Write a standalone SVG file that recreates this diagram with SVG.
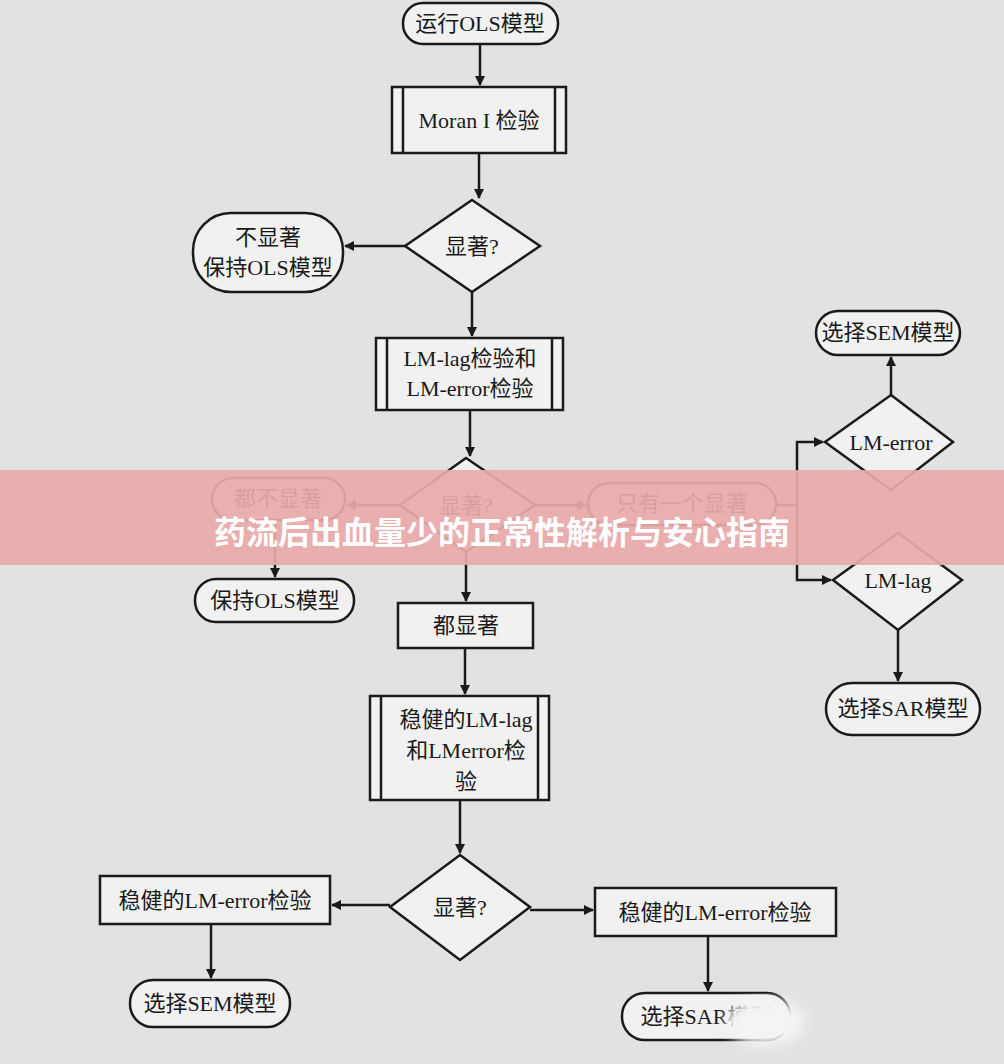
<svg xmlns="http://www.w3.org/2000/svg" width="1004" height="1064" viewBox="0 0 1004 1064">
<defs>
<marker id="ah" markerWidth="10" markerHeight="10" refX="9" refY="5" orient="auto" markerUnits="userSpaceOnUse"><path d="M0,0 L10,5 L0,10 z" fill="#1a1a1a"/></marker>
<filter id="bl"><feGaussianBlur stdDeviation="6"/></filter>
</defs>
<style>
.b{fill:#f1f1f1;stroke:#1a1a1a;stroke-width:2.5}
.l{fill:none;stroke:#1a1a1a;stroke-width:2.5}
.c{stroke:#1a1a1a;stroke-width:2.5;fill:none}
text{font-family:"Liberation Serif","Noto Sans CJK SC",serif;font-size:22px;fill:#1a1a1a;text-anchor:middle}
</style>
<rect width="1004" height="1064" fill="#e2e2e4"/>
<g id="connectors">
<path class="c" d="M480,44 V85" marker-end="url(#ah)"/>
<path class="c" d="M479,153 V198" marker-end="url(#ah)"/>
<path class="c" d="M405,246 H345" marker-end="url(#ah)"/>
<path class="c" d="M472,292 V336" marker-end="url(#ah)"/>
<path class="c" d="M470,410 V456" marker-end="url(#ah)"/>
<path class="c" d="M400,505 H347" marker-end="url(#ah)"/>
<path class="c" d="M535,505 H586" marker-end="url(#ah)"/>
<path class="c" d="M275,520 V577" marker-end="url(#ah)"/>
<path class="c" d="M466,552 V601" marker-end="url(#ah)"/>
<path class="c" d="M776,505 H797 V442 H823" marker-end="url(#ah)"/>
<path class="c" d="M797,505 V580 H831" marker-end="url(#ah)"/>
<path class="c" d="M891,395 V357" marker-end="url(#ah)"/>
<path class="c" d="M898,630 V681" marker-end="url(#ah)"/>
<path class="c" d="M465,648 V694" marker-end="url(#ah)"/>
<path class="c" d="M460,800 V853" marker-end="url(#ah)"/>
<path class="c" d="M390,905 H332" marker-end="url(#ah)"/>
<path class="c" d="M530,910 H593" marker-end="url(#ah)"/>
<path class="c" d="M211,924 V978" marker-end="url(#ah)"/>
<path class="c" d="M708,936 V991" marker-end="url(#ah)"/>
</g>
<g id="n1"><rect class="b" x="403" y="3" width="155" height="41" rx="20"/><text x="480" y="31">运行OLS模型</text></g>
<g id="n2"><rect class="b" x="392" y="87" width="174" height="66"/><path class="l" d="M403,87 V153 M555,87 V153"/><text x="479" y="128">Moran I 检验</text></g>
<g id="n3"><polygon class="b" points="472,200 540,246 472,292 405,246"/><text x="472" y="254">显著?</text></g>
<g id="n4"><rect class="b" x="193" y="213" width="150" height="79" rx="38"/><text x="268" y="245">不显著</text><text x="268" y="275">保持OLS模型</text></g>
<g id="n5"><rect class="b" x="376" y="338" width="187" height="72"/><path class="l" d="M387,338 V410 M552,338 V410"/><text x="470" y="366">LM-lag检验和</text><text x="470" y="396">LM-error检验</text></g>
<g id="n6"><polygon class="b" points="466,458 535,505 466,552 400,505"/><text x="466" y="513">显著?</text></g>
<g id="n7"><rect class="b" x="212" y="478" width="133" height="42" rx="21"/><text x="278" y="506">都不显著</text></g>
<g id="n8"><rect class="b" x="588" y="483" width="188" height="42" rx="21"/><text x="682" y="511">只有一个显著</text></g>
<g id="n9"><rect class="b" x="195" y="579" width="159" height="43" rx="21"/><text x="275" y="608">保持OLS模型</text></g>
<g id="n10"><polygon class="b" points="891,395 953,442 891,490 825,442"/><text x="891" y="450">LM-error</text></g>
<g id="n11"><rect class="b" x="816" y="311" width="144" height="44" rx="22"/><text x="888" y="340">选择SEM模型</text></g>
<g id="n12"><polygon class="b" points="898,533 962,580 898,630 833,580"/><text x="898" y="588">LM-lag</text></g>
<g id="n13"><rect class="b" x="826" y="683" width="154" height="52" rx="26"/><text x="903" y="716">选择SAR模型</text></g>
<g id="n14"><rect class="b" x="398" y="603" width="135" height="45"/><text x="466" y="633">都显著</text></g>
<g id="n15"><rect class="b" x="370" y="696" width="179" height="104"/><path class="l" d="M381,696 V800 M538,696 V800"/><text x="466" y="727">稳健的LM-lag</text><text x="466" y="758">和LMerror检</text><text x="466" y="789">验</text></g>
<g id="n16"><polygon class="b" points="460,855 530,907 460,960 390,907"/><text x="460" y="915">显著?</text></g>
<g id="n17"><rect class="b" x="100" y="876" width="230" height="48"/><text x="215" y="908">稳健的LM-error检验</text></g>
<g id="n18"><rect class="b" x="595" y="888" width="241" height="48"/><text x="715" y="920">稳健的LM-error检验</text></g>
<g id="n19"><rect class="b" x="130" y="980" width="160" height="47" rx="23"/><text x="210" y="1011">选择SEM模型</text></g>
<g id="n20"><rect class="b" x="622" y="993" width="168" height="47" rx="23"/><text x="706" y="1024">选择SAR模型</text></g>
<ellipse cx="765" cy="1022" rx="40" ry="24" fill="#f4f4f4" filter="url(#bl)"/>
<rect x="0" y="470" width="1004" height="95" fill="#e9a9a9" opacity="0.92"/>
<text x="502" y="544" style="font-family:'Noto Sans CJK SC',sans-serif;font-size:32px;font-weight:bold;fill:#ffffff">药流后出血量少的正常性解析与安心指南</text>
</svg>
